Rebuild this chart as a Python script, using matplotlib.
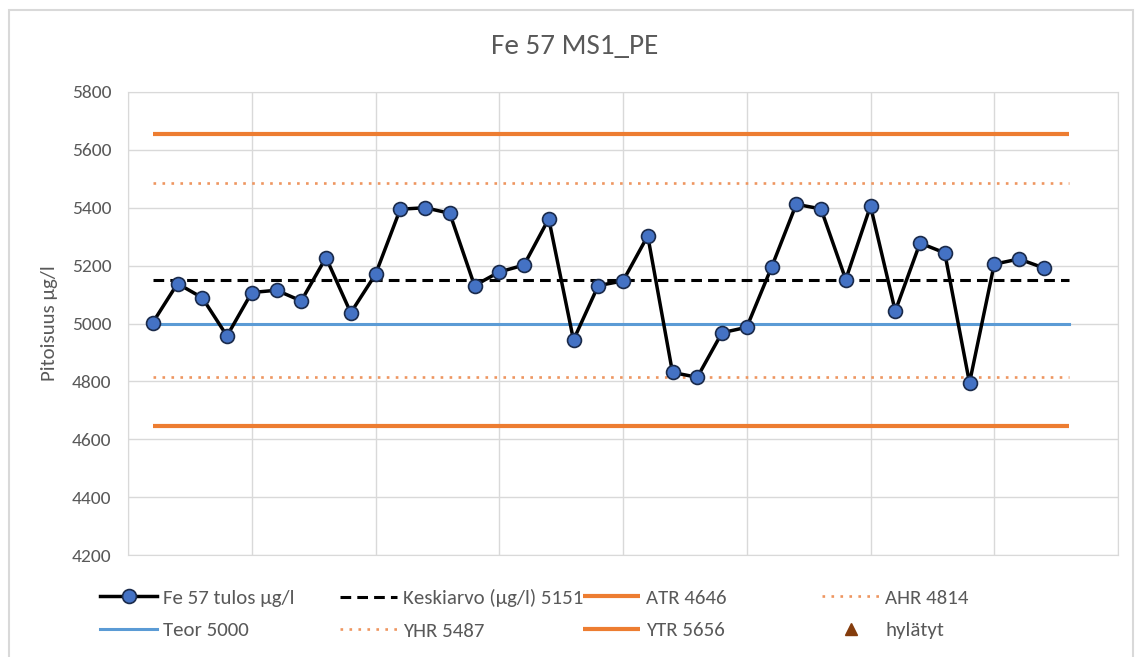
import numpy as np
import matplotlib.pyplot as plt
from matplotlib.lines import Line2D
from matplotlib.patches import Rectangle

plt.rcParams['font.family'] = ['Carlito', 'Lato', 'DejaVu Sans']

# Data
tulos = [5003, 5138, 5089, 4957, 5107, 5115, 5078, 5228, 5037, 5170,
         5395, 5400, 5381, 5131, 5178, 5202, 5362, 4943, 5131, 5147,
         5303, 4831, 4814, 4968, 4987, 5194, 5412, 5396, 5152, 5406,
         5043, 5278, 5244, 4795, 5205, 5223, 5192]
keskiarvo = 5151
teor = 5000
atr, ahr, yhr, ytr = 4646, 4814, 5487, 5656
n_ref = 38  # reference series length in the sheet

x_data = np.arange(1, len(tulos) + 1)
x_ref = np.arange(1, n_ref + 1)

W, H = 1141, 657
fig = plt.figure(figsize=(W / 100, H / 100), dpi=100)
ax = fig.add_axes([128 / W, 1 - 555 / H, (1118 - 128) / W, (555 - 92) / H])

txt = '#595959'
grid = '#D9D9D9'
orange = '#ED7D31'
pale = '#EE9660'

h_ytr, = ax.plot(x_ref, [ytr] * n_ref, color=orange, lw=3, solid_capstyle='butt', label='YTR 5656')
h_yhr, = ax.plot(x_ref, [yhr] * n_ref, color=pale, lw=1.9, ls=(0, (1, 2.4)), label='YHR 5487')
h_ahr, = ax.plot(x_ref, [ahr] * n_ref, color=pale, lw=1.9, ls=(0, (1, 2.4)), label='AHR 4814')
h_atr, = ax.plot(x_ref, [atr] * n_ref, color=orange, lw=3, solid_capstyle='butt', label='ATR 4646')
h_teor, = ax.plot(x_ref, [teor] * n_ref, color='#5B9BD5', lw=2.2, label='Teor 5000')
h_mean, = ax.plot(x_ref, [keskiarvo] * n_ref, color='black', lw=2.2, ls=(0, (3.5, 2)), label='Keskiarvo (µg/l) 5151')
h_data, = ax.plot(x_data, tulos, color='black', lw=2.5, marker='o', markersize=10,
                  markerfacecolor='#4472C4', markeredgecolor='#1A2A4A', markeredgewidth=1.2,
                  label='Fe 57 tulos µg/l', zorder=5)
h_hyl = Line2D([], [], ls='none', marker='^', color='#843C0C', markersize=8.5, label='hylätyt')

ax.set_xlim(0, 40)
ax.set_ylim(4200, 5800)
ax.set_xticks(np.arange(0, 41, 5))
ax.set_yticks(np.arange(4200, 5801, 200))
ax.grid(True, color=grid, lw=1)
ax.set_axisbelow(True)
ax.tick_params(axis='x', length=0, labelbottom=False)
ax.tick_params(axis='y', length=0, labelsize=14, colors=txt, pad=12)
for s in ax.spines.values():
    s.set_color(grid)
ax.set_ylabel('Pitoisuus µg/l', fontsize=15, color=txt, labelpad=10)

fig.text(575 / W, 1 - 46 / H, 'Fe 57 MS1_PE', ha='center', va='center', fontsize=21, color=txt)

# Legend: four equal-width columns like Excel
cols = [(100, [h_data, h_teor]), (340, [h_mean, h_yhr]),
        (583, [h_atr, h_ytr]), (822, [h_ahr, h_hyl])]
for xc, hs in cols:
    fig.legend(handles=hs, loc='upper left', bbox_to_anchor=(xc / W, 1 - 589 / H),
               frameon=False, borderpad=0, borderaxespad=0, fontsize=15,
               handlelength=2.75, handletextpad=0.28, labelspacing=0.72, labelcolor=txt)

# chart area border
fig.patches.append(Rectangle((8.5 / W, -0.1), (1133 - 8.5) / W, 1.1 - 9.5 / H,
                             transform=fig.transFigure, fill=False, ec='#D9D9D9', lw=1.5))

fig.savefig('out.png', dpi=100)
